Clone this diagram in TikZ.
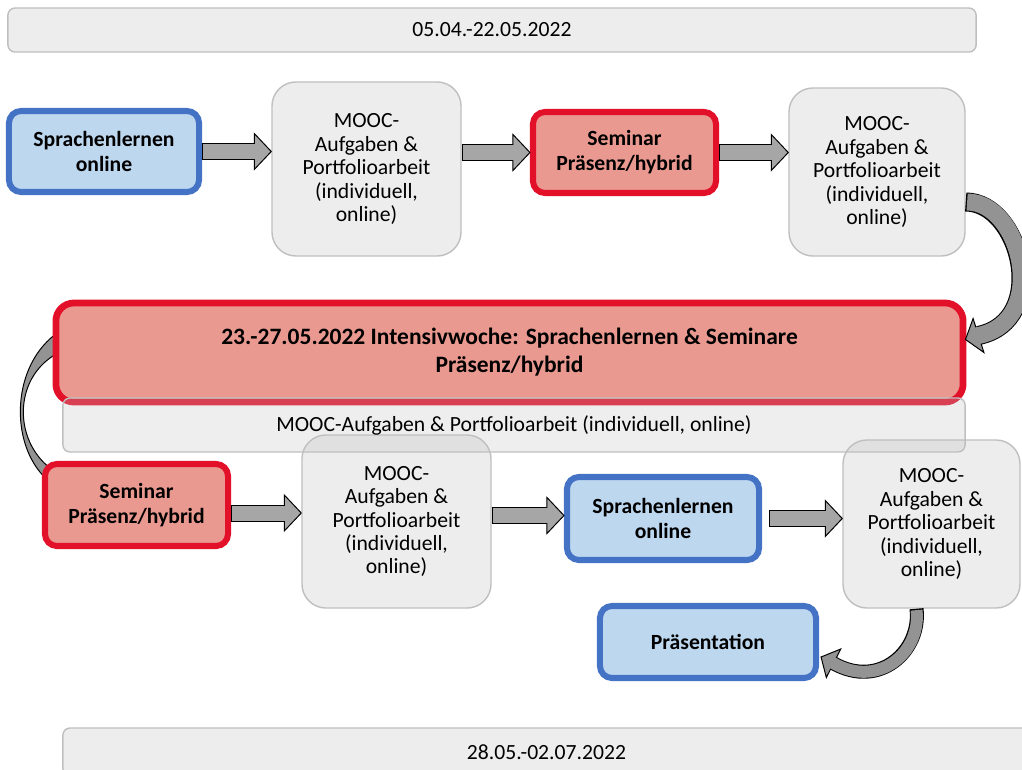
\documentclass[tikz,border=0pt]{standalone}
\usepackage{fontspec}
\setmainfont{Carlito}
\usepackage{tikz}
\usetikzlibrary{calc,positioning}
\pgfdeclarelayer{background}
\pgfsetlayers{background,main}
\definecolor{boxgray}{HTML}{EDEDED}
\definecolor{linegray}{HTML}{BFBFBF}
\definecolor{barshade}{HTML}{C0C0C0}
\definecolor{lightblue}{HTML}{BDD7EE}
\definecolor{darkblue}{HTML}{4472C4}
\definecolor{salmon}{HTML}{EA9990}
\definecolor{brightred}{HTML}{E3102A}
\definecolor{arrowgray}{HTML}{A6A6A6}
\definecolor{bendgray}{HTML}{939393}

\begin{document}
\begin{tikzpicture}[x=0.025cm,y=-0.025cm,
  regular/.style={font=\fontsize{15.4}{16.7}\selectfont},
  heavy/.style={font=\fontsize{15.4}{17.8}\selectfont\bfseries},
  bluebox/.style={draw=darkblue,fill=lightblue,line width=4.3pt,rounded corners=0.3cm,align=center,heavy,inner sep=0pt},
  redbox/.style={draw=brightred,fill=salmon,line width=4.3pt,rounded corners=0.3cm,align=center,heavy,inner sep=0pt},
  moocbox/.style={draw=linegray,fill=boxgray,line width=1pt,rounded corners=0.6cm,align=center,regular,inner sep=0pt},
  datebar/.style={draw=linegray,fill=boxgray,line width=1pt,rounded corners=0.18cm,regular,inner sep=0pt},
  shaftout/.style={black,line width=0.425cm},
  shaftin/.style={arrowgray,line width=0.375cm},
  headfill/.style={fill=arrowgray,draw=black,line width=0.7pt,line join=miter},
  bendfill/.style={fill=bendgray,draw=black,line width=0.7pt}
  ]
\useasboundingbox (0,0) rectangle (1022,770);

\node[datebar,minimum width=24.2cm,minimum height=1.1cm] (top) at (492,30) {05.04.-22.05.2022};

% first row
\node[bluebox,minimum width=4.75cm,minimum height=2.025cm] (s1) at (104,151.5) {Sprachenlernen\\online};
\node[moocbox,minimum width=4.725cm,minimum height=4.35cm] (m1) at (366.5,169) {MOOC-\\Aufgaben \&\\Portfolioarbeit\\(individuell,\\online)};
\node[redbox,minimum width=4.575cm,minimum height=2.025cm] (s2) at (624.5,152.5) {Seminar\\Präsenz/hybrid};
\node[moocbox,minimum width=4.4cm,minimum height=4.2cm] (m2) at (877,172) {MOOC-\\Aufgaben \&\\Portfolioarbeit\\(individuell,\\online)};

% intensive week
\node[redbox,line width=4.8pt,rounded corners=0.45cm,font=\fontsize{16.7}{20}\selectfont\bfseries,minimum width=22.675cm,minimum height=2.475cm] (R) at (509.5,352.5) {23.-27.05.2022 Intensivwoche: Sprachenlernen \& Seminare\\Präsenz/hybrid};

% second row
\node[redbox,minimum width=4.575cm,minimum height=2.05cm] (s3) at (136.5,505) {Seminar\\Präsenz/hybrid};
\node[moocbox,minimum width=4.725cm,minimum height=4.325cm] (m3) at (396.5,521.5) {MOOC-\\Aufgaben \&\\Portfolioarbeit\\(individuell,\\online)};
\node[bluebox,minimum width=4.8cm,minimum height=2.075cm] (s4) at (663,518.5) {Sprachenlernen\\online};
\node[moocbox,minimum width=4.425cm,minimum height=4.2cm] (m4) at (931.5,524) {MOOC-\\Aufgaben \&\\Portfolioarbeit\\(individuell,\\online)};
\node[bluebox,minimum width=5.4cm,minimum height=1.8cm] (s5) at (708,642) {Präsentation};

\node[datebar,fill=barshade,fill opacity=0.27,text opacity=1,minimum width=22.55cm,minimum height=1.35cm] (G) at (514,425) {MOOC-Aufgaben \& Portfolioarbeit (individuell, online)};

\node[datebar,minimum width=24.175cm,minimum height=1.2cm] (bottom) at (546.5,752) {28.05.-02.07.2022};

% straight arrows
\coordinate (a1s) at (s1.east);
\coordinate (a1e) at (s1.east -| m1.west);
\coordinate (a2s) at (s2.west -| m1.east);
\coordinate (a2e) at (s2.west);
\coordinate (a3s) at (s2.east);
\coordinate (a3e) at (s2.east -| m2.west);
\coordinate (a4s) at ($(s3.east)+(0,8)$);
\coordinate (a4e) at (a4s -| m3.west);
\coordinate (a5e) at ($(s4.west)+(0,-3)$);
\coordinate (a5s) at (a5e -| m3.east);
\coordinate (a6s) at ($(s4.east)+(7,0)$);
\coordinate (a6e) at (s4.east -| m4.west);
\foreach \s/\e in {a1s/a1e,a2s/a2e,a3s/a3e,a4s/a4e,a5s/a5e,a6s/a6e}{
  \draw[shaftout] (\s) -- ($(\e)+(-17,0)$);
  \draw[headfill] ($(\e)+(-17,-18)$) -- (\e) -- ($(\e)+(-17,18)$) -- cycle;
  \draw[shaftin] ($(\s)+(1.4,0)$) -- ($(\e)+(-15,0)$);
}

% bent arrow down to the intensive week
\coordinate (c1s) at ($(m2.east)+(0,30)$);
\coordinate (c1t) at ($(R.east)+(-1,-13)$);
\coordinate (c1b) at ($(c1t)+(13,-4)$);
\draw[black,line width=0.475cm] (c1s) .. controls +(55,0) and +(72,-15) .. (c1b);
\draw[bendfill] ($(c1b)+(5.4,17)$) -- (c1t) -- ($(c1b)+(-5.4,-17)$) -- cycle;
\draw[bendgray,line width=0.425cm] ($(c1s)+(1.4,0)$) .. controls +(54,0) and +(72,-15) .. (c1b) -- ($(c1b)+(-2.6,0.8)$);

% bent arrow to the presentation
\coordinate (c3s) at ($(m4.south)+(-15,0)$);
\coordinate (c3t) at ($(s5.east)+(2,15)$);
\coordinate (c3b) at ($(c3t)+(12.5,6.3)$);
\draw[black,line width=0.35cm] (c3s) .. controls +(5,42) and +(46,26) .. (c3b);
\draw[bendfill] ($(c3b)+(7.2,-14.3)$) -- (c3t) -- ($(c3b)+(-7.2,14.3)$) -- cycle;
\draw[bendgray,line width=0.3cm] ($(c3s)+(0,1.4)$) .. controls +(5,41) and +(46,26) .. (c3b) -- ($(c3b)+(-2.7,-1.3)$);

% left bend behind the boxes
\begin{pgfonlayer}{background}
\filldraw[bendfill] ($(R.west)+(2,-17.5)$) .. controls +(-45,35) and +(-40,-32) .. ($(s3.north west)+(8,21)$) -- ($(s3.north west)+(8,7)$) .. controls +(-36,-28) and +(-41,25) .. ($(R.west)+(2,2.5)$) -- cycle;
\end{pgfonlayer}

\end{tikzpicture}
\end{document}
